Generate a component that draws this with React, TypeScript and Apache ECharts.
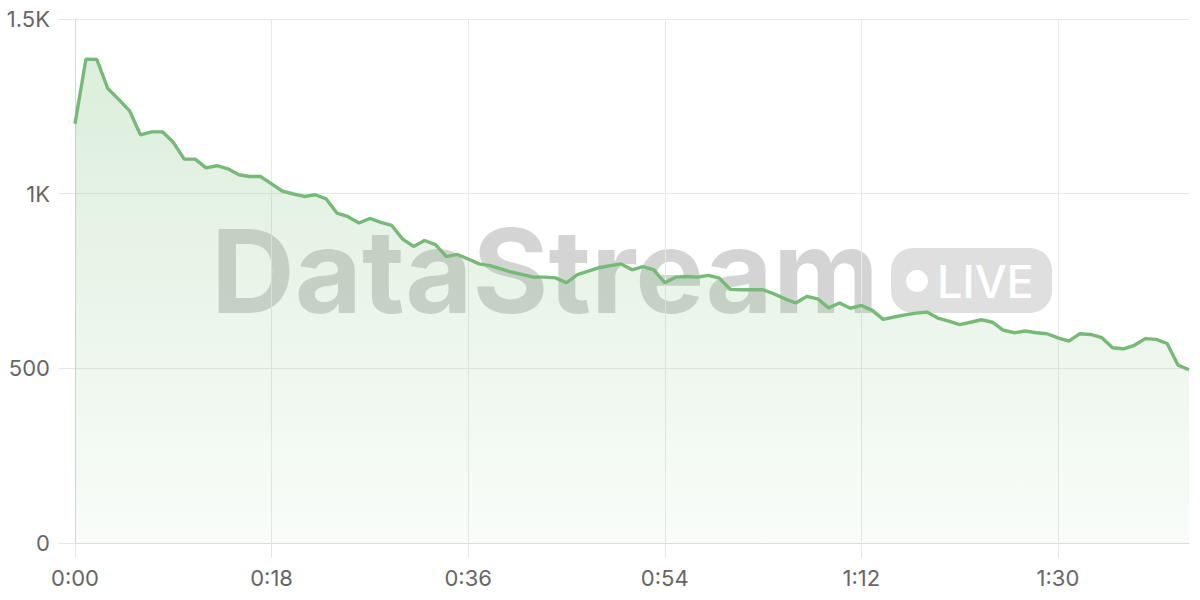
import React, { useEffect, useRef } from "react";
import * as echarts from "echarts";

// Seconds elapsed, one sample per second (0:00 .. 1:42)
const seconds: number[] = Array.from({ length: 103 }, (_, i) => i);
const timeLabels: string[] = seconds.map(
  (s) => `${Math.floor(s / 60)}:${String(s % 60).padStart(2, "0")}`
);

// Viewers per second
const viewers: number[] = [
  1200, 1385, 1384, 1301, 1270, 1237, 1168, 1177, 1177, 1147,
  1099, 1099, 1074, 1080, 1071, 1054, 1049, 1049, 1028, 1007,
  999, 992, 997, 985, 944, 934, 916, 929, 918, 909,
  870, 849, 866, 854, 820, 826, 813, 799, 794, 785,
  775, 768, 761, 761, 759, 745, 768, 778, 788, 794,
  799, 782, 791, 782, 745, 761, 763, 761, 766, 758,
  726, 725, 725, 725, 713, 699, 687, 706, 699, 673,
  687, 672, 680, 666, 640, 647, 653, 658, 661, 644,
  635, 625, 632, 639, 632, 609, 602, 607, 602, 599,
  587, 578, 599, 597, 588, 559, 556, 566, 585, 583,
  571, 509, 496,
];

const yTicks: number[] = [0, 500, 1000, 1500];
const yTickLabels: string[] = ["0", "500", "1K", "1.5K"];

const watermarkText = "DataStream";
const badgeText = "LIVE";

const LINE = "#74bc74";
const FONT = "Inter, 'Noto Sans', sans-serif";

export default function App() {
  const ref = useRef<HTMLDivElement>(null);

  useEffect(() => {
    if (!ref.current) return;
    const chart = echarts.init(ref.current, undefined, { renderer: "svg" });
    chart.setOption({
      animation: false,
      backgroundColor: "#ffffff",
      textStyle: { fontFamily: FONT },
      grid: { left: 75, right: 11, top: 19, bottom: 57, containLabel: false },
      graphic: [
        {
          type: "text",
          z: 0,
          x: 211,
          y: 271,
          style: {
            text: watermarkText,
            font: `bold 116px ${FONT}`,
            fill: "rgba(0,0,0,0.17)",
            verticalAlign: "middle",
            align: "left",
          },
        },
        {
          type: "rect",
          z: 0,
          shape: { x: 891, y: 248, width: 161, height: 65, r: 22 },
          style: { fill: "rgba(0,0,0,0.125)" },
        },
        {
          type: "circle",
          z: 0,
          shape: { cx: 917, cy: 281, r: 11 },
          style: { fill: "#ffffff" },
        },
        {
          type: "text",
          z: 0,
          x: 937,
          y: 281,
          style: {
            text: badgeText,
            font: `500 45px ${FONT}`,
            fill: "#ffffff",
            verticalAlign: "middle",
            align: "left",
          },
        },
      ],
      xAxis: {
        type: "category",
        boundaryGap: false,
        data: timeLabels,
        axisLine: { show: true, lineStyle: { color: "#dcdcdc", width: 1 } },
        axisTick: {
          show: true,
          interval: 17,
          length: 15,
          lineStyle: { color: "#e6e6e6" },
        },
        axisLabel: {
          interval: 17,
          color: "#666666",
          fontSize: 22,
          fontFamily: FONT,
          margin: 24,
        },
        splitLine: {
          show: true,
          interval: 17,
          lineStyle: { color: "#e8e8e8", width: 1 },
        },
      },
      yAxis: {
        type: "value",
        min: yTicks[0],
        max: yTicks[yTicks.length - 1],
        interval: 500,
        axisLine: { show: true, lineStyle: { color: "#d6d6d6", width: 1 } },
        axisTick: { show: true, length: 16, lineStyle: { color: "#e6e6e6" } },
        axisLabel: {
          color: "#666666",
          fontSize: 22,
          fontFamily: FONT,
          margin: 25,
          formatter: (v: number) => {
            const i = yTicks.indexOf(v);
            return i >= 0 ? yTickLabels[i] : String(v);
          },
        },
        splitLine: { show: true, lineStyle: { color: "#e8e8e8", width: 1 } },
      },
      series: [
        {
          type: "line",
          data: viewers,
          showSymbol: false,
          symbol: "none",
          smooth: false,
          z: 2,
          lineStyle: { color: LINE, width: 3.4 },
          itemStyle: { color: LINE },
          areaStyle: {
            color: new echarts.graphic.LinearGradient(0, 0, 0, 1, [
              { offset: 0, color: "rgba(116,188,116,0.36)" },
              { offset: 1, color: "rgba(116,188,116,0.06)" },
            ]),
          },
        },
      ],
    });
    return () => chart.dispose();
  }, []);

  return (
    <div
      ref={ref}
      style={{ position: "fixed", left: 0, top: 0, width: 1200, height: 600 }}
    />
  );
}
